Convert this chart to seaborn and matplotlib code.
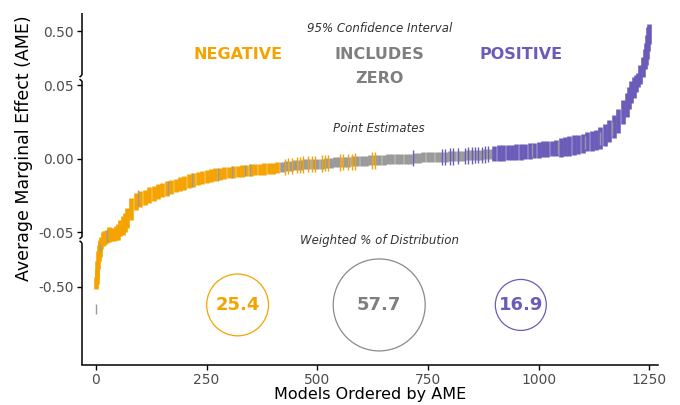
import numpy as np
import pandas as pd
import matplotlib
matplotlib.use('Agg')
import matplotlib.pyplot as plt
import seaborn as sns

# --- data ---
# main band of CIs (sampled model ranks)
rank = [
    1, 2, 3, 4, 6, 8, 10, 12, 15, 18, 20, 25, 30, 35, 40, 45, 50, 55, 60, 65, 70,
    80, 90, 100, 110, 120, 130, 140, 150, 160, 170, 180, 190, 200, 210, 220, 230, 240,
    250, 260, 270, 280, 290, 300, 310, 320, 330, 340, 350, 360, 370, 380, 390, 400, 410,
    420, 430, 440, 450, 460, 470, 480, 490, 500, 510, 520, 530, 540, 550, 560, 570,
    580, 590, 600, 610, 620, 630, 640, 650, 660, 670, 680, 690, 700, 710, 720, 730,
    740, 750, 760, 770, 780, 790, 800, 810, 820, 830, 840, 850, 860, 870, 880, 890,
    900, 910, 920, 930, 940, 950, 960, 970, 980, 990, 1000, 1010, 1020, 1030, 1040,
    1050, 1060, 1070, 1080, 1090, 1100, 1110, 1120, 1130, 1140, 1150, 1160, 1170, 1180,
    1190, 1200, 1205, 1210, 1215, 1220, 1225, 1230, 1235, 1240, 1243, 1246, 1248, 1250,
]
ame = [
    -0.465, -0.402, -0.331, -0.245, -0.179, -0.145, -0.108, -0.097, -0.081, -0.076,
    -0.071, -0.066, -0.060, -0.056, -0.056, -0.0503, -0.0497, -0.0470, -0.0455, -0.0430, -0.0400,
    -0.0340, -0.0290, -0.0274, -0.0262, -0.0248, -0.0238, -0.0224, -0.0211, -0.0201, -0.0190,
    -0.0180, -0.0170, -0.0163, -0.0150, -0.0143, -0.0133, -0.0126, -0.0119, -0.0112, -0.0105,
    -0.0102, -0.0095, -0.0092, -0.0088, -0.0085, -0.0082, -0.0078, -0.0075, -0.0071, -0.0071,
    -0.0068, -0.0065, -0.0065, -0.0058,
    -0.0054, -0.0051, -0.0048, -0.0044, -0.0041, -0.0037, -0.0034, -0.0034, -0.0031, -0.0031,
    -0.0027, -0.0027, -0.0024, -0.0024, -0.0020, -0.0020, -0.0017, -0.0017, -0.0014, -0.0014,
    -0.0010, -0.0010, -0.0007, -0.0007, -0.0003, -0.0003, 0.0000, 0.0000, 0.0003, 0.0003,
    0.0007, 0.0007, 0.0010, 0.0010, 0.0014, 0.0014, 0.0014, 0.0014, 0.0017, 0.0017,
    0.0020, 0.0020, 0.0024, 0.0024, 0.0027, 0.0027, 0.0031, 0.0034,
    0.0037, 0.0041, 0.0041, 0.0044, 0.0044, 0.0048, 0.0048, 0.0051, 0.0054, 0.0058,
    0.0061, 0.0065, 0.0068, 0.0071, 0.0075, 0.0078, 0.0082, 0.0088, 0.0095, 0.0099,
    0.0105, 0.0116, 0.0122, 0.0129, 0.0143, 0.0163, 0.0190, 0.0221, 0.0259, 0.0320,
    0.0367,
    0.0415, 0.0456, 0.053, 0.0646, 0.076, 0.115, 0.160, 0.236, 0.284, 0.350, 0.427, 0.474,
]
ci_half = [
    0.058, 0.072, 0.076, 0.085, 0.076, 0.071, 0.052, 0.044, 0.031, 0.027,
    0.022, 0.018, 0.014, 0.009, 0.009, 0.0047, 0.0055, 0.0055, 0.0065, 0.0065, 0.0068,
    0.0075, 0.0060, 0.0055, 0.0054, 0.0054, 0.0051, 0.0051, 0.0050, 0.0048, 0.0050,
    0.0047, 0.0050, 0.0050, 0.0048, 0.0048, 0.0045, 0.0045, 0.0045, 0.0044, 0.0044,
    0.0042, 0.0042, 0.0040, 0.0042, 0.0039, 0.0041, 0.0039, 0.0041, 0.0038, 0.0038,
    0.0041, 0.0038, 0.0038, 0.0038,
    0.0034, 0.0034, 0.0034, 0.0034, 0.0034, 0.0034, 0.0034, 0.0034, 0.0034, 0.0034,
    0.0034, 0.0034, 0.0034, 0.0034, 0.0034, 0.0034, 0.0034, 0.0034, 0.0034, 0.0034,
    0.0034, 0.0034, 0.0034, 0.0034, 0.0034, 0.0034, 0.0034, 0.0034, 0.0034, 0.0034,
    0.0034, 0.0034, 0.0034, 0.0034, 0.0034, 0.0034, 0.0034, 0.0034, 0.0034, 0.0034,
    0.0034, 0.0034, 0.0034, 0.0034, 0.0034, 0.0034, 0.0034, 0.0034,
    0.0054, 0.0054, 0.0054, 0.0054, 0.0054, 0.0054, 0.0054, 0.0054, 0.0054, 0.0054,
    0.0054, 0.0054, 0.0054, 0.0054, 0.0054, 0.0065, 0.0065, 0.0065, 0.0065, 0.0065,
    0.0065, 0.0065, 0.0065, 0.0070, 0.0075, 0.0075, 0.0075, 0.0078, 0.0082, 0.0082,
    0.0082,
    0.0075, 0.0075, 0.0115, 0.019, 0.027, 0.064, 0.095, 0.095, 0.105, 0.115, 0.115, 0.095,
]
ci_class = list(
    "NNNNNNNNNN NNNNNNNNNN N"
    "NNNNNNNNNN NNNNNNNNNN NNNNNNNNNN NNNN"
    "ZZZZZZZZZZ ZZZZZZZZZZ ZZZZZZZZZZ ZZZZZZZZZZ ZZZZZZZZ"
    "PPPPPPPPPP PPPPPPPPPP PPPPPPPPPP P"
    "PPPPPPPPPP PP".replace(" ", "")
)

# single models whose CI class differs from their neighbours
thin_rank = [
    0, 9, 24, 95, 163, 217, 276, 307, 337, 348,
    427, 434, 443, 454, 461, 468, 479, 488, 495, 511, 517, 524, 552, 558, 570, 579, 585, 624, 631,
    716, 782, 789, 800, 807, 818, 834, 841, 850, 857, 864, 872, 879, 886,
    985, 1045, 1105, 1139, 1166,
]
thin_ame = [
    -0.712, -0.126, -0.061, -0.0265, -0.0197, -0.0143, -0.0105, -0.0090, -0.0078, -0.0075,
    -0.0052, -0.0050, -0.0047, -0.0043, -0.0041, -0.0038, -0.0034, -0.0034, -0.0033, -0.0031,
    -0.0029, -0.0027, -0.0024, -0.0022, -0.0020, -0.0018, -0.0017, -0.0010, -0.0010,
    0.0005, 0.0014, 0.0014, 0.0017, 0.0017, 0.0019, 0.0021, 0.0023, 0.0024, 0.0025,
    0.0027, 0.0028, 0.0030, 0.0032,
    0.0056, 0.0077, 0.0110, 0.0141, 0.0208,
]
thin_half = [
    0.048, 0.034, 0.013, 0.0054, 0.0048, 0.0048, 0.0044, 0.0040, 0.0038, 0.0038,
    0.0055, 0.0055, 0.0055, 0.0055, 0.0055, 0.0055, 0.0055, 0.0055, 0.0055, 0.0055,
    0.0055, 0.0055, 0.0055, 0.0055, 0.0055, 0.0055, 0.0055, 0.0055, 0.0055,
    0.0055, 0.0055, 0.0055, 0.0055, 0.0055, 0.0055, 0.0055, 0.0055, 0.0055, 0.0055,
    0.0055, 0.0055, 0.0055, 0.0055,
    0.0045, 0.0045, 0.0045, 0.0045, 0.0045,
]
thin_class = list("ZZZZZZZZZZ" "NNNNNNNNNNNNNNNNNNN" "PPPPPPPPPPPPPP" "ZZZZZ")

share_class = ['N', 'Z', 'P']
share_label = ['NEGATIVE', 'INCLUDES\nZERO', 'POSITIVE']
share_pct = [25.4, 57.7, 16.9]

y_ticks = [-0.50, -0.05, 0.00, 0.05, 0.50]
y_ticklabels = ['-0.50', '-0.05', '0.00', '0.05', '0.50']
x_ticks = [0, 250, 500, 750, 1000, 1250]

assert len(rank) == len(ame) == len(ci_half) == len(ci_class)
assert len(thin_rank) == len(thin_ame) == len(thin_half) == len(thin_class)

bar_colors = {'N': '#f4a300', 'Z': '#9a9a9a', 'P': '#6a5cb8'}
text_colors = {'N': '#f4a300', 'Z': '#7f7f7f', 'P': '#6a5cb8'}

# --- broken y scale: linear near zero, squeezed outside +-0.055 ---
T_BREAK = 0.055
SQUEEZE = 14.0


def squash(v):
    v = np.asarray(v, dtype=float)
    a = np.abs(v)
    return np.where(a <= T_BREAK, v, np.sign(v) * (T_BREAK + (a - T_BREAK) / SQUEEZE))


def unsquash(u):
    u = np.asarray(u, dtype=float)
    a = np.abs(u)
    return np.where(a <= T_BREAK, u, np.sign(u) * (T_BREAK + (a - T_BREAK) * SQUEEZE))


sns.set_theme(style="ticks")
plt.rcParams['font.family'] = ['DejaVu Sans']

W, H = 680, 405
fig = plt.figure(figsize=(W / 100, H / 100), dpi=100)
ax_l, ax_b, ax_w, ax_h = 82, 40, 576, 352
ax = fig.add_axes([ax_l / W, ax_b / H, ax_w / W, ax_h / H])
ax.set_yscale('function', functions=(squash, unsquash))
y_lo, y_hi = -1.247, 0.675
ax.set_xlim(-31.6, 1270)
ax.set_ylim(y_lo, y_hi)

df = pd.DataFrame({'rank': rank, 'ame': ame, 'half': ci_half, 'cls': ci_class})
df['lo'] = df['ame'] - df['half']
df['hi'] = df['ame'] + df['half']
thin = pd.DataFrame({'rank': thin_rank, 'ame': thin_ame, 'half': thin_half, 'cls': thin_class})
thin['lo'] = thin['ame'] - thin['half']
thin['hi'] = thin['ame'] + thin['half']

for cls in ['N', 'Z', 'P']:
    sub = df[df['cls'] == cls]
    ax.vlines(sub['rank'], sub['lo'], sub['hi'], color=bar_colors[cls], lw=3.3)
for cls in ['N', 'Z', 'P']:
    sub = thin[thin['cls'] == cls]
    ax.vlines(sub['rank'], sub['lo'], sub['hi'], color=bar_colors[cls], lw=1.0)

# weighted share circles, area ~ percentage
circ = pd.DataFrame({'x': [320, 640, 960], 'y': -0.675, 'pct': share_pct, 'cls': share_class})
sns.scatterplot(data=circ, x='x', y='y', size='pct', sizes=(1348, 4386), size_norm=(16.9, 57.7),
                hue='cls', palette=bar_colors, legend=False, ax=ax)
coll = ax.collections[-1]
coll.set_edgecolors([text_colors[c] if c != 'Z' else '#8a8a8a' for c in share_class])
coll.set_facecolors('none')
coll.set_linewidth(0.9)
for x, pct, cls in zip(circ['x'], share_pct, share_class):
    ax.text(x, -0.675, f'{pct:.1f}', ha='center', va='center', fontsize=13,
            fontweight='bold', color=text_colors[cls])

# headings (x in data, y in axes fraction)
tr = ax.get_xaxis_transform()
for x, lab, cls in zip(circ['x'], share_label, share_class):
    for i, line in enumerate(lab.split('\n')):
        ax.text(x, 0.881 - i * 0.066, line, transform=tr, ha='center', va='center',
                fontsize=11.5, fontweight='bold', color=text_colors[cls])
ax.text(640, 0.957, '95% Confidence Interval', transform=tr, ha='center', va='center',
        fontsize=8.5, style='italic', color='#333333')
ax.text(640, 0.673, 'Point Estimates', transform=tr, ha='center', va='center',
        fontsize=8.5, style='italic', color='#333333')
ax.text(640, 0.355, 'Weighted % of Distribution', transform=tr, ha='center', va='center',
        fontsize=8.5, style='italic', color='#333333')

# axes styling
ax.set_xticks(x_ticks)
ax.set_yticks(y_ticks)
ax.set_yticklabels(y_ticklabels)
ax.yaxis.set_minor_locator(matplotlib.ticker.NullLocator())
ax.tick_params(axis='both', length=3.5, width=1, color='black', labelsize=10,
               labelcolor='#4d4d4d', pad=2.5)
for side in ['top', 'right', 'left']:
    ax.spines[side].set_visible(False)
ax.spines['bottom'].set_color('black')
ax.spines['bottom'].set_linewidth(1.1)
ax.set_xlabel('Models Ordered by AME', fontsize=11.5, color='black', labelpad=-0.5)
ax.set_ylabel('Average Marginal Effect (AME)', fontsize=12.5, color='black')
ax.yaxis.set_label_coords(-0.085, 0.617)


# left spine drawn in three pieces with small break hooks
def frac(v):
    s_lo, s_hi = squash(y_lo), squash(y_hi)
    return float((squash(v) - s_lo) / (s_hi - s_lo))


gap = 3.0 / ax_h
hx, hy = 2.5 / ax_w, 2.0 / ax_h
f_top, f_bot = frac(T_BREAK), frac(-T_BREAK)
pieces = [(f_top + gap, 1.0), (f_bot + gap, f_top - gap), (0.0, f_bot - gap)]
line_kw = dict(transform=ax.transAxes, color='black', lw=1.1, clip_on=False,
               solid_capstyle='butt')
for a, b in pieces:
    ax.plot([0, 0], [a, b], **line_kw)
for fb in [f_top, f_bot]:
    ax.plot([0, -hx], [fb + gap, fb + gap - hy], **line_kw)
    ax.plot([0, -hx], [fb - gap, fb - gap + hy], **line_kw)

fig.savefig('out.png', dpi=100)
